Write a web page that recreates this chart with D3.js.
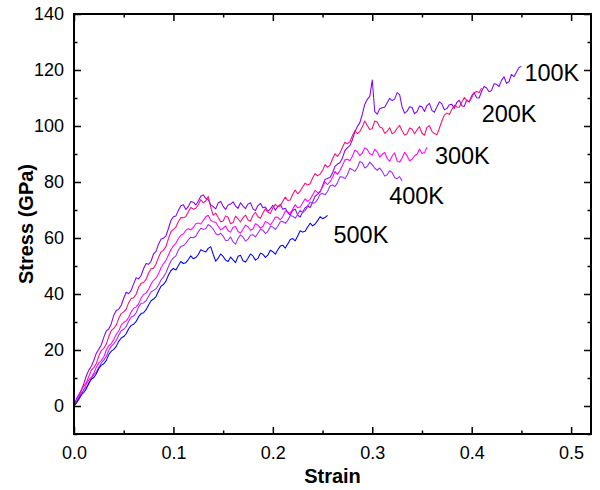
<!DOCTYPE html>
<html>
<head>
<meta charset="utf-8">
<script src="https://cdn.jsdelivr.net/npm/d3@7"></script>
<style>
  body { margin: 0; background: #fff; }
  svg { display: block; font-family: "Liberation Sans", Arial, Helvetica, sans-serif; }
</style>
</head>
<body>
<svg id="chart"></svg>
<script>
// each curve is sampled evenly from strain 0 to its last strain
const temperatures = ['100K', '200K', '300K', '400K', '500K'];
const strainEnd = [0.45, 0.41, 0.355, 0.33, 0.255];

const stress100K = [0, 2.6, 4.2, 5.7, 8.1, 10.9, 12.9, 14.2, 16.4, 18.9, 20.3, 21.9, 24.6, 26.8, 27.5, 29.4,
  32.4, 34.1, 34.6, 36.0, 38.5, 40.6, 40.1, 41.3, 43.6, 45.8, 45.4, 46.6, 49.1, 50.9, 50.6, 51.7, 54.3, 55.2,
  57.8, 59.6, 59.9, 60.8, 63.4, 66.3, 67.6, 67.9, 69.8, 71.5, 71.9, 70.2, 71.2, 73.0, 72.8, 71.8, 73.1, 74.9,
  75.4, 74.1, 73.7, 71.9, 71.2, 70.4, 72.5, 73.1, 71.3, 70.2, 71.8, 72.1, 72.9, 71.4, 70.6, 72.6, 71.4, 70.5,
  72.1, 72.6, 70.4, 69.8, 71.6, 72.4, 70.8, 71.1, 69.5, 70.4, 71.7, 69.9, 71.2, 72.0, 70.3, 70.6, 69.1, 68.2,
  69.9, 70.3, 68.2, 67.5, 69.3, 70.8, 71.4, 70.9, 72.8, 74.9, 75.6, 76.4, 78.7, 80.9, 81.3, 81.6, 83.2, 85.6,
  86.4, 86.9, 88.6, 91.2, 92.3, 93.0, 95.1, 97.9, 99.8, 101.2, 104.2, 107.8, 109.5, 110.6, 116.4, 105.1,
  104.2, 106.2, 106.5, 106.7, 108.3, 109.9, 109.1, 109.6, 111.9, 111.2, 106.8, 104.6, 105.3, 106.9, 106.6,
  104.4, 105.1, 107.1, 106.9, 105.2, 107.3, 108.1, 105.6, 104.9, 106.8, 108.6, 107.9, 105.8, 106.2, 107.6,
  107.8, 106.3, 108.4, 109.2, 107.2, 107.0, 109.3, 108.6, 110.8, 111.9, 110.1, 110.0, 112.4, 114.1, 113.6,
  112.2, 112.7, 115.1, 114.9, 114.1, 116.3, 117.6, 115.2, 115.8, 118.4, 117.6, 119.2, 120.9, 121.3];

const stress200K = [0, 1.4, 3.6, 5.9, 7.2, 8.4, 10.6, 12.8, 13.8, 15.2, 17.9, 19.8, 20.6, 22.1, 24.8, 26.9,
  27.7, 28.9, 31.3, 33.0, 33.6, 34.6, 36.9, 38.4, 38.7, 39.9, 42.4, 43.8, 44.1, 45.2, 47.5, 49.0, 49.2, 50.7,
  53.1, 55.0, 55.6, 57.0, 59.8, 62.3, 63.1, 63.9, 65.9, 67.3, 67.2, 67.7, 69.4, 70.9, 70.3, 70.6, 71.9, 73.7,
  72.6, 73.2, 74.8, 71.0, 68.1, 68.9, 67.3, 65.8, 66.1, 67.9, 67.4, 65.1, 65.5, 67.8, 66.8, 65.7, 67.3, 68.2,
  66.4, 66.1, 68.1, 69.2, 67.6, 67.0, 68.9, 70.4, 69.3, 68.7, 70.8, 72.0, 71.2, 71.4, 73.1, 74.6, 73.4, 73.6,
  75.6, 77.1, 75.8, 76.7, 78.2, 79.6, 78.9, 79.4, 81.4, 83.0, 82.2, 82.8, 84.1, 86.2, 85.3, 86.0, 88.2, 90.1,
  89.1, 90.4, 92.4, 94.2, 93.6, 94.4, 96.5, 98.3, 97.3, 98.0, 99.7, 101.8, 100.2, 98.7, 99.1, 101.8, 101.4,
  99.6, 99.3, 97.4, 98.1, 99.4, 97.2, 97.8, 99.1, 100.2, 98.3, 96.8, 97.2, 99.3, 98.9, 97.2, 98.6, 99.8, 97.4,
  96.7, 99.5, 100.1, 98.1, 97.3, 96.9, 99.2, 101.8, 103.9, 104.6, 104.1, 105.9, 107.4, 106.8, 106.7, 108.5,
  110.2, 109.1, 108.6, 110.2, 111.9, 112.3, 112.0, 113.6];

const stress300K = [0, 1.3, 3.2, 4.8, 5.8, 7.9, 9.3, 10.3, 11.8, 13.9, 15.4, 16.2, 17.6, 19.9, 21.5, 22.3,
  23.7, 25.6, 26.8, 28.9, 29.9, 30.4, 31.6, 33.6, 34.9, 35.4, 36.5, 38.6, 39.8, 40.4, 41.6, 43.6, 44.9, 45.7,
  47.2, 49.4, 50.8, 52.0, 53.9, 55.9, 57.2, 58.1, 59.8, 61.0, 61.4, 62.8, 63.3, 62.9, 63.8, 65.1, 65.4, 65.0,
  66.2, 67.6, 68.1, 66.3, 65.8, 65.6, 64.2, 62.9, 63.4, 64.3, 62.6, 62.1, 63.8, 64.1, 62.3, 61.8, 63.1, 64.6,
  64.0, 62.8, 63.2, 65.1, 64.6, 63.5, 64.1, 65.9, 65.4, 64.7, 65.9, 67.5, 67.4, 66.5, 67.6, 69.6, 69.3, 68.8,
  70.4, 71.9, 70.8, 71.1, 72.6, 74.0, 73.1, 73.8, 75.4, 77.0, 76.2, 76.6, 78.3, 80.0, 79.1, 80.1, 81.6, 83.8,
  82.7, 84.1, 85.9, 87.9, 88.1, 87.6, 89.2, 91.4, 90.8, 89.4, 90.3, 92.2, 91.6, 90.1, 89.6, 91.7, 90.8, 88.9,
  89.9, 90.6, 88.4, 87.4, 89.3, 90.4, 87.5, 87.1, 88.6, 90.6, 89.4, 87.6, 88.1, 89.4, 89.9, 91.8, 90.2, 90.5,
  92.4];

const stress400K = [0, 1.5, 2.4, 4.0, 6.1, 6.7, 7.9, 9.8, 11.2, 12.2, 13.8, 15.4, 16.4, 17.7, 19.8, 21.3, 22.2,
  23.4, 25.3, 26.9, 27.4, 28.4, 30.3, 31.8, 32.1, 33.3, 35.4, 36.7, 36.8, 37.6, 39.2, 40.7, 41.3, 41.9, 43.2,
  45.0, 46.1, 47.6, 49.8, 51.8, 52.9, 53.6, 55.7, 57.0, 57.3, 58.1, 59.4, 60.3, 60.1, 60.6, 62.2, 63.5, 63.1,
  63.3, 64.8, 64.2, 63.2, 61.6, 61.1, 61.7, 60.7, 59.1, 59.2, 60.4, 58.6, 57.8, 59.8, 61.1, 60.3, 58.9, 59.6,
  61.0, 61.2, 60.4, 61.7, 63.1, 62.8, 61.6, 62.4, 64.1, 63.9, 63.1, 64.2, 65.8, 65.9, 65.2, 66.3, 68.0, 67.8,
  67.1, 68.4, 69.9, 69.1, 69.8, 71.3, 72.9, 72.4, 72.6, 73.8, 75.6, 75.9, 75.4, 76.6, 78.6, 78.9, 78.4, 79.7,
  81.9, 81.8, 81.2, 82.6, 84.9, 84.4, 83.8, 85.1, 87.3, 86.9, 85.0, 85.6, 87.1, 86.1, 84.9, 84.2, 85.0, 83.8,
  82.1, 82.6, 84.0, 83.4, 81.5, 81.2, 81.9, 80.4];

const stress500K = [0, 1.1, 2.6, 4.1, 4.9, 6.2, 8.3, 9.6, 10.2, 11.5, 13.4, 14.6, 15.1, 16.3, 18.4, 19.6, 20.2,
  21.3, 23.1, 24.3, 24.8, 25.8, 27.6, 28.8, 29.2, 30.2, 31.9, 33.0, 33.3, 34.4, 36.1, 37.6, 38.2, 39.1, 41.1,
  42.8, 43.4, 44.6, 46.8, 48.4, 49.1, 48.6, 50.2, 51.6, 50.9, 51.2, 52.3, 53.6, 52.6, 53.0, 54.1, 55.8, 55.4,
  55.0, 56.3, 56.9, 54.2, 51.7, 52.8, 54.3, 53.4, 52.1, 51.6, 53.2, 52.2, 51.2, 53.5, 53.8, 51.9, 51.4, 52.8,
  54.3, 53.6, 52.1, 52.7, 54.6, 54.2, 53.1, 53.9, 55.6, 55.1, 54.2, 55.8, 57.1, 57.4, 56.4, 57.9, 59.5, 59.8,
  59.0, 60.7, 62.6, 62.1, 62.4, 63.9, 65.3, 64.3, 65.0, 66.2, 67.6, 66.9, 67.3, 68.1];

const xTicks = [0.0, 0.1, 0.2, 0.3, 0.4, 0.5];
const xMinorTicks = [0.05, 0.15, 0.25, 0.35, 0.45];
const yTicks = [0, 20, 40, 60, 80, 100, 120, 140];
const yMinorTicks = [-10, 10, 30, 50, 70, 90, 110, 130];

// styling kept apart from the values
const lineColors = ['#7f00ff', '#ff0a78', '#ff00ff', '#9a2cff', '#0000ff'];
// label anchors in data units (strain, stress)
const labelAnchors = [[0.453, 116], [0.410, 101.4], [0.363, 86.4], [0.317, 72.1], [0.261, 58.2]];

class StrainChart {

    constructor( config, data ) {
        this.config = {
            parent: config.parent,
            width: config.width || 600,
            height: config.height || 490,
            margin: config.margin || {top:14, right:9, bottom:56, left:74}
        }
        this.data = data;
        this.init();
    }

    init() {
        let self = this;

        self.svg = d3.select( self.config.parent )
            .attr('width', self.config.width)
            .attr('height', self.config.height);

        self.chart = self.svg.append('g')
            .attr('transform', `translate(${self.config.margin.left}, ${self.config.margin.top})`);

        self.inner_width = self.config.width - self.config.margin.left - self.config.margin.right;
        self.inner_height = self.config.height - self.config.margin.top - self.config.margin.bottom;

        self.xscale = d3.scaleLinear()
            .domain( [0, 0.52] )
            .range( [0, self.inner_width] );

        self.yscale = d3.scaleLinear()
            .domain( [-10, 140] )
            .range( [self.inner_height, 0] );
    }

    render() {
        let self = this;
        const w = self.inner_width, h = self.inner_height;

        self.chart.selectAll('path.curve')
            .data(self.data)
            .join('path')
            .attr('class', 'curve')
            .attr('fill', 'none')
            .attr('stroke', (d, i) => lineColors[i])
            .attr('stroke-width', 1.05)
            .attr('stroke-linejoin', 'round')
            .attr('d', d => d3.line()
                .x( (v, i) => self.xscale( i / (d.values.length - 1) * d.end ) )
                .y( v => self.yscale( v ) )(d.values));

        // bottom
        self.chart.append('g')
            .attr('transform', `translate(0, ${h})`)
            .call( d3.axisBottom(self.xscale).tickValues(xTicks).tickFormat(d3.format('.1f'))
                .tickSizeInner(-7).tickSizeOuter(0).tickPadding(12) );
        self.chart.append('g')
            .attr('transform', `translate(0, ${h})`)
            .call( d3.axisBottom(self.xscale).tickValues(xMinorTicks).tickFormat('')
                .tickSizeInner(-3.5).tickSizeOuter(0) );
        // top
        self.chart.append('g')
            .call( d3.axisTop(self.xscale).tickValues(xTicks).tickFormat('')
                .tickSizeInner(-7).tickSizeOuter(0) );
        self.chart.append('g')
            .call( d3.axisTop(self.xscale).tickValues(xMinorTicks).tickFormat('')
                .tickSizeInner(-3.5).tickSizeOuter(0) );
        // left
        self.chart.append('g')
            .call( d3.axisLeft(self.yscale).tickValues(yTicks)
                .tickSizeInner(-7).tickSizeOuter(0).tickPadding(10) );
        self.chart.append('g')
            .call( d3.axisLeft(self.yscale).tickValues(yMinorTicks).tickFormat('')
                .tickSizeInner(-3.5).tickSizeOuter(0) );
        // right
        self.chart.append('g')
            .attr('transform', `translate(${w}, 0)`)
            .call( d3.axisRight(self.yscale).tickValues(yTicks).tickFormat('')
                .tickSizeInner(-7).tickSizeOuter(0) );
        self.chart.append('g')
            .attr('transform', `translate(${w}, 0)`)
            .call( d3.axisRight(self.yscale).tickValues(yMinorTicks).tickFormat('')
                .tickSizeInner(-3.5).tickSizeOuter(0) );

        self.chart.selectAll('.domain').remove();
        self.chart.selectAll('.tick line')
            .attr('stroke', '#000')
            .attr('stroke-width', 1.5);
        self.chart.selectAll('.tick text')
            .attr('fill', '#000')
            .attr('font-size', '18px')
            .attr('font-family', '"Liberation Sans", Arial, sans-serif');

        self.chart.append('rect')
            .attr('width', w)
            .attr('height', h)
            .attr('fill', 'none')
            .attr('stroke', '#000')
            .attr('stroke-width', 2);

        self.chart.selectAll('text.temp')
            .data(self.data)
            .join('text')
            .attr('class', 'temp')
            .attr('x', (d, i) => self.xscale( labelAnchors[i][0] ))
            .attr('y', (d, i) => self.yscale( labelAnchors[i][1] ))
            .attr('font-size', '23.5px')
            .attr('fill', '#000')
            .text(d => d.name);

        self.svg.append('text')
            .attr('text-anchor', 'middle')
            .attr('x', self.config.margin.left + w / 2)
            .attr('y', 483)
            .attr('font-weight', 'bold')
            .attr('font-size', '20px')
            .text('Strain');

        self.svg.append('text')
            .attr('text-anchor', 'middle')
            .attr('transform', `translate(33, ${self.config.margin.top + h / 2}) rotate(-90)`)
            .attr('font-weight', 'bold')
            .attr('font-size', '20px')
            .text('Stress (GPa)');
    }
}

const curves = [stress100K, stress200K, stress300K, stress400K, stress500K]
    .map((values, i) => ({ name: temperatures[i], end: strainEnd[i], values }));

const chart = new StrainChart({ parent: '#chart' }, curves);
chart.render();
</script>
</body>
</html>
